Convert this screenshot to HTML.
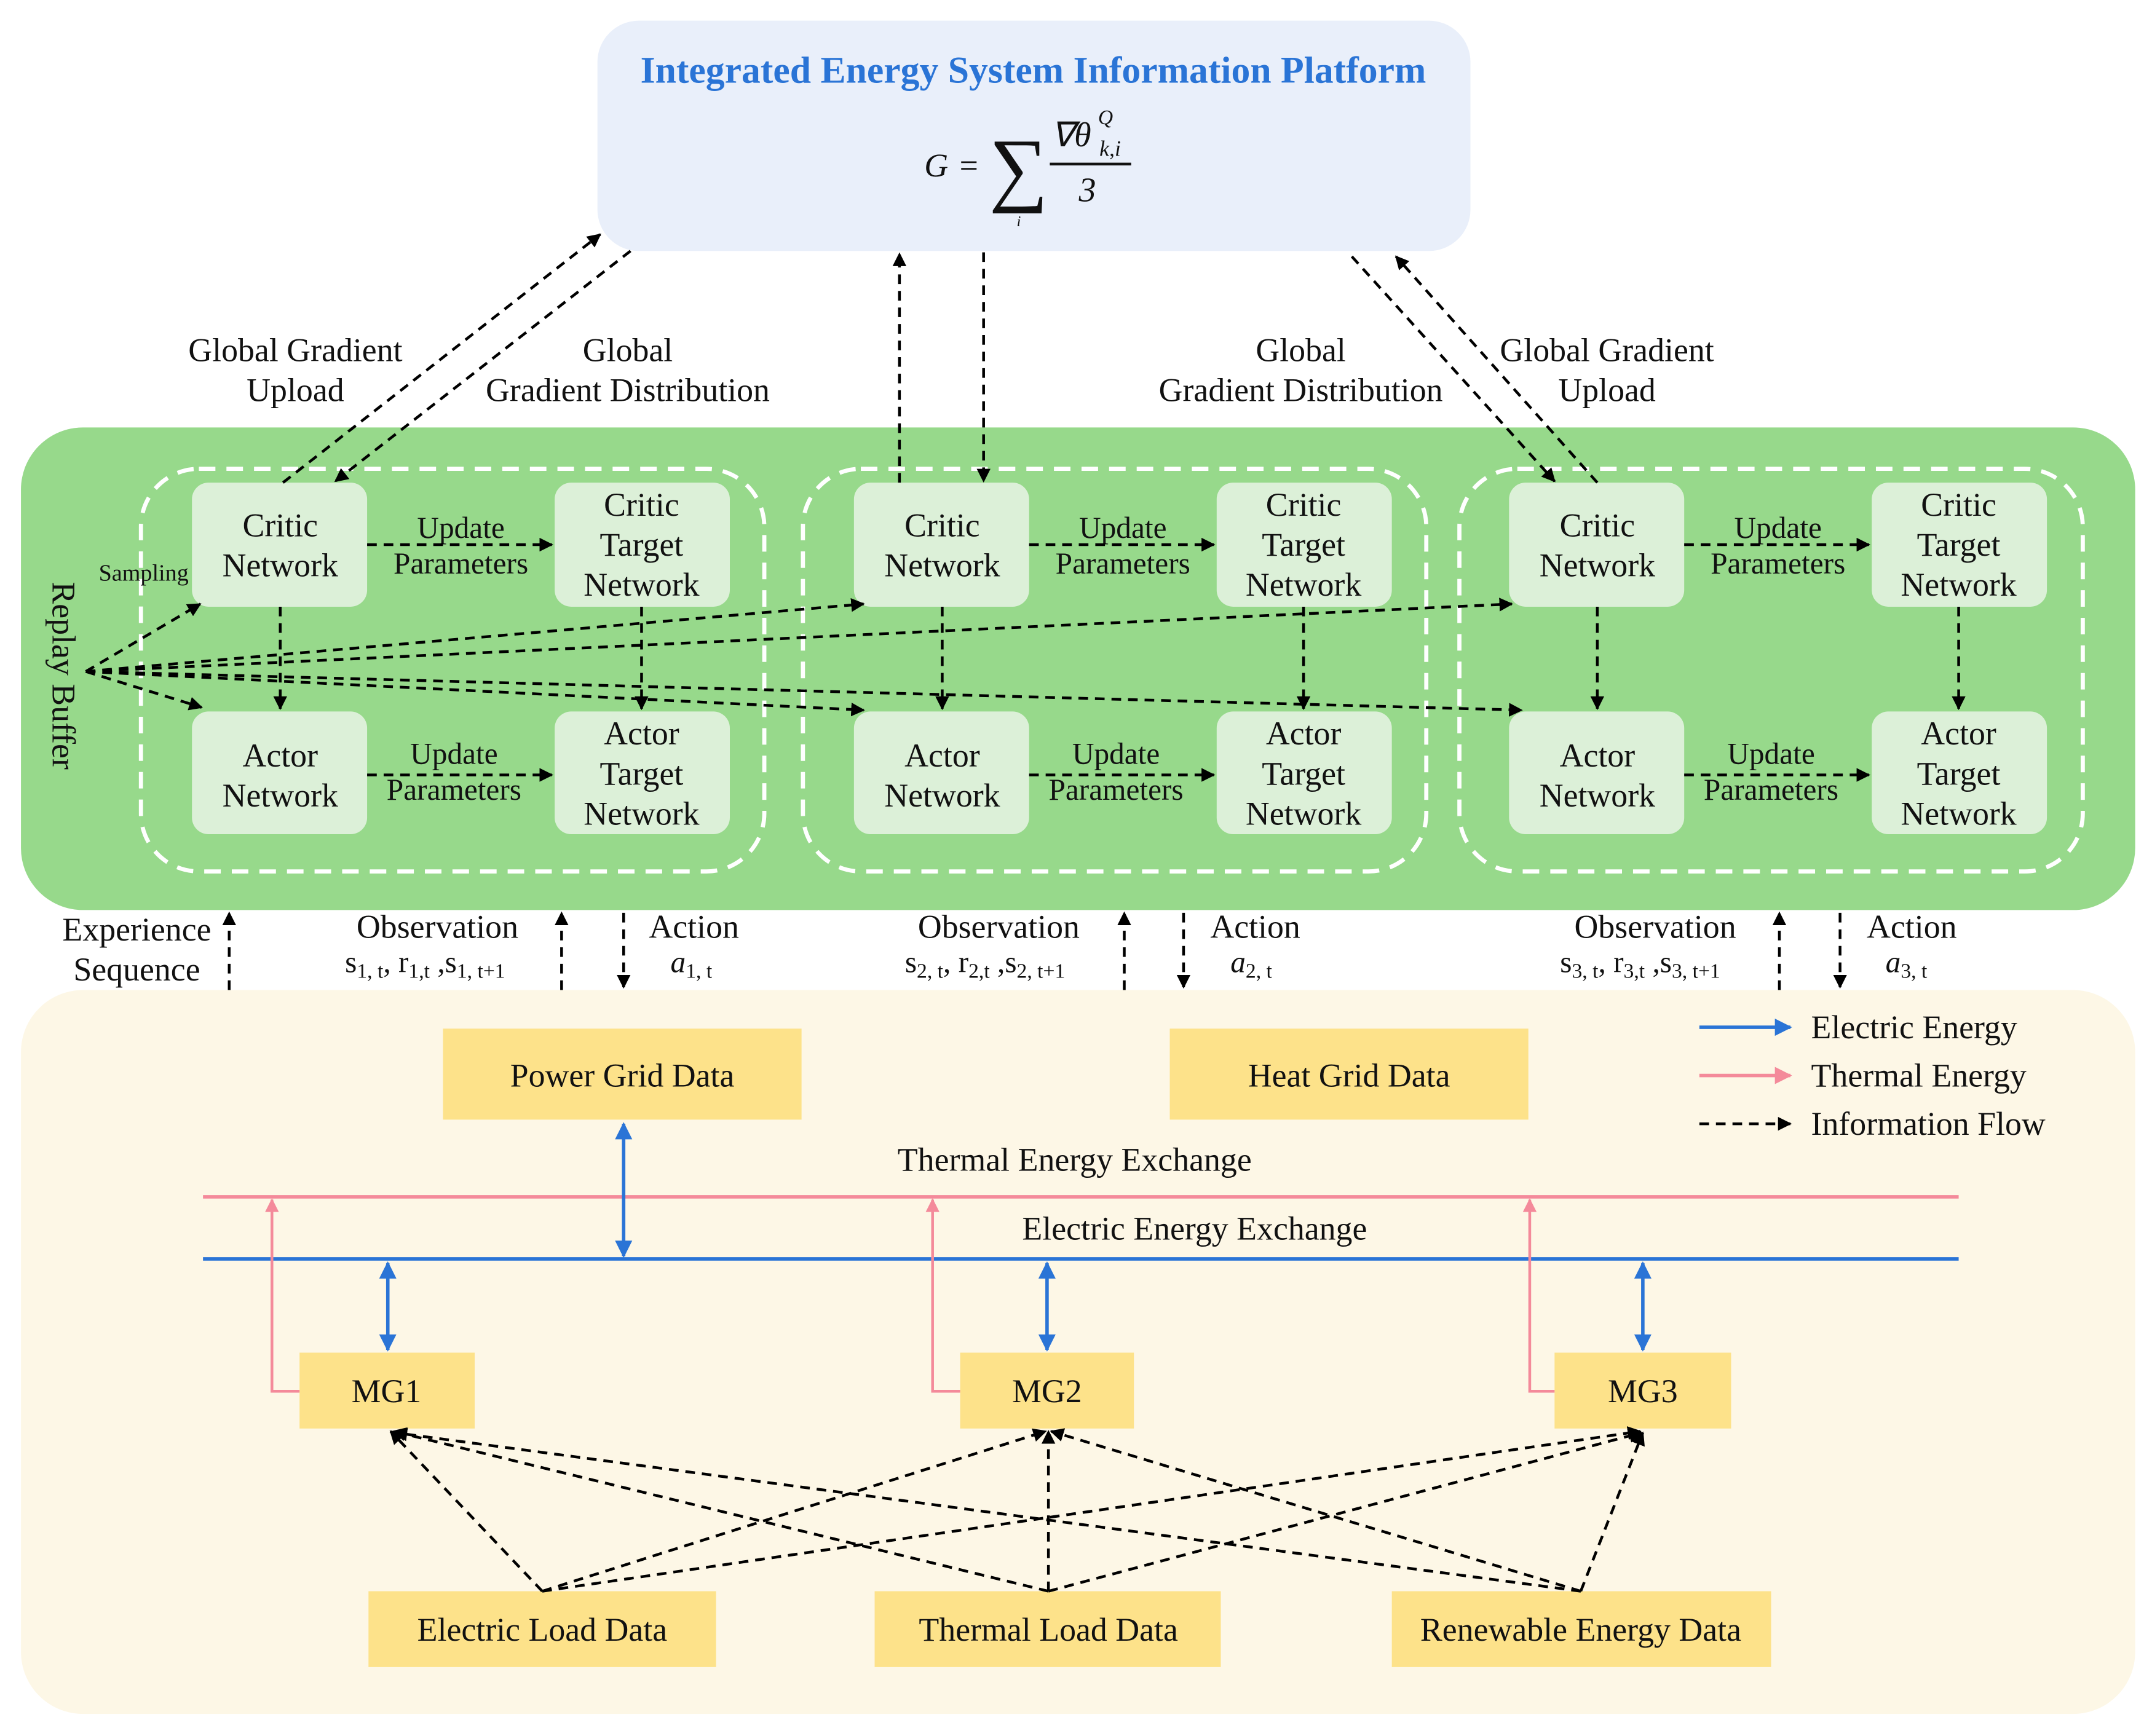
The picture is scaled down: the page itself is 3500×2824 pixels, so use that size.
<!DOCTYPE html>
<html><head><meta charset="utf-8"><style>
html,body{margin:0;padding:0;background:#fff;}
svg{display:block;}
text{font-family:"Liberation Serif",serif;fill:#111;}
</style></head><body>
<svg width="3500" height="2824" viewBox="0 0 1560 1259" xmlns="http://www.w3.org/2000/svg">
<defs>
<marker id="ak" viewBox="0 0 10 10" refX="9" refY="5" markerWidth="5" markerHeight="5" orient="auto-start-reverse"><path d="M0,0L10,5L0,10z" fill="#000"/></marker>
<marker id="ab" viewBox="0 0 10 10" refX="9" refY="5" markerWidth="5" markerHeight="5" orient="auto-start-reverse"><path d="M0,0L10,5L0,10z" fill="#2a74d6"/></marker>
<marker id="ap" viewBox="0 0 10 10" refX="9" refY="5" markerWidth="5" markerHeight="5" orient="auto-start-reverse"><path d="M0,0L10,5L0,10z" fill="#f48a9a"/></marker>
</defs>
<rect width="1560" height="1259" fill="#fff"/>
<!-- top platform -->
<rect x="433" y="15" width="633" height="167" rx="30" fill="#e9effa"/>
<text x="749" y="60" text-anchor="middle" font-size="27.5" font-weight="bold" style="fill:#2a74d6">Integrated Energy System Information Platform</text>
<g font-style="italic">
<text x="670" y="128" font-size="24" font-family="Liberation Sans,sans-serif">G</text>
<text x="694" y="128" font-size="24">=</text>
<text x="717" y="142" font-size="60" font-style="normal">∑</text>
<text x="737" y="164" font-size="11">i</text>
<text x="762" y="106" font-size="25">∇θ</text>
<text x="796" y="90" font-size="15">Q</text>
<text x="797" y="113" font-size="16">k,i</text>
<line x1="761" y1="119" x2="820" y2="119" stroke="#111" stroke-width="2"/>
<text x="782" y="146" font-size="25">3</text>
</g>
<!-- labels top -->
<g font-size="24" text-anchor="middle">
<text x="214" y="262">Global Gradient</text><text x="214" y="291">Upload</text>
<text x="455" y="262">Global</text><text x="455" y="291">Gradient Distribution</text>
<text x="943" y="262">Global</text><text x="943" y="291">Gradient Distribution</text>
<text x="1165" y="262">Global Gradient</text><text x="1165" y="291">Upload</text>
</g>
<!-- green -->
<rect x="15" y="310" width="1533" height="350" rx="45" fill="#97d98b"/>
<g fill="none" stroke="#fff" stroke-width="3" stroke-dasharray="12 8">
<rect x="102" y="340" width="452" height="292" rx="42"/>
<rect x="582" y="340" width="452" height="292" rx="42"/>
<rect x="1058" y="340" width="452" height="292" rx="42"/>
</g>
<g id="grp">
<rect x="139" y="350" width="127" height="90" rx="12" fill="#dcf0d8"/>
<rect x="402" y="350" width="127" height="90" rx="12" fill="#dcf0d8"/>
<rect x="139" y="516" width="127" height="89" rx="12" fill="#dcf0d8"/>
<rect x="402" y="516" width="127" height="89" rx="12" fill="#dcf0d8"/>
<g font-size="24" text-anchor="middle">
<text x="203" y="389">Critic</text><text x="203" y="418">Network</text>
<text x="465" y="374">Critic</text><text x="465" y="403">Target</text><text x="465" y="432">Network</text>
<text x="203" y="556">Actor</text><text x="203" y="585">Network</text>
<text x="465" y="540">Actor</text><text x="465" y="569">Target</text><text x="465" y="598">Network</text>
<text x="334" y="390" font-size="22">Update</text><text x="334" y="416" font-size="22">Parameters</text>
<text x="329" y="554" font-size="22">Update</text><text x="329" y="580" font-size="22">Parameters</text>
</g>
<g stroke="#000" stroke-width="2" stroke-dasharray="7 5" fill="none" marker-end="url(#ak)">
<line x1="266" y1="395" x2="400" y2="395"/>
<line x1="266" y1="562" x2="400" y2="562"/>
<line x1="203" y1="440" x2="203" y2="514"/>
<line x1="465" y1="440" x2="465" y2="514"/>
</g>
</g>
<use href="#grp" x="480"/>
<use href="#grp" x="955"/>
<text x="104" y="421" font-size="17" text-anchor="middle">Sampling</text>
<text transform="translate(38,490) rotate(90)" font-size="24" text-anchor="middle">Replay Buffer</text>
<g stroke="#000" stroke-width="2" stroke-dasharray="7 5" fill="none" marker-end="url(#ak)">
<line x1="62" y1="487" x2="145" y2="438"/>
<line x1="62" y1="487" x2="146" y2="513"/>
<line x1="62" y1="487" x2="626" y2="438"/>
<line x1="62" y1="487" x2="626" y2="515"/>
<line x1="62" y1="487" x2="1096" y2="438"/>
<line x1="62" y1="487" x2="1103" y2="515"/>
<line x1="205" y1="350" x2="435" y2="170"/>
<line x1="457" y1="182" x2="243" y2="349"/>
<line x1="652" y1="350" x2="652" y2="184"/>
<line x1="713" y1="183" x2="713" y2="349"/>
<line x1="980" y1="186" x2="1127" y2="349"/>
<line x1="1158" y1="350" x2="1012" y2="186"/>
<line x1="166" y1="718" x2="166" y2="662"/>
<line x1="407" y1="718" x2="407" y2="662"/>
<line x1="815" y1="718" x2="815" y2="662"/>
<line x1="1290" y1="718" x2="1290" y2="662"/>
<line x1="452" y1="662" x2="452" y2="716"/>
<line x1="858" y1="662" x2="858" y2="716"/>
<line x1="1334" y1="662" x2="1334" y2="716"/>
</g>
<g font-size="24" text-anchor="middle">
<text x="99" y="682">Experience</text><text x="99" y="711">Sequence</text>
<text x="317" y="680">Observation</text>
<text x="724" y="680">Observation</text>
<text x="1200" y="680">Observation</text>
<text x="503" y="680">Action</text><text x="910" y="680">Action</text><text x="1386" y="680">Action</text>
</g>
<g font-size="22">
<text x="250" y="705">s<tspan font-size="15" dy="4">1, t</tspan><tspan dy="-4">,   r</tspan><tspan font-size="15" dy="4">1,t</tspan><tspan dy="-4"> ,s</tspan><tspan font-size="15" dy="4">1, t+1</tspan></text>
<text x="656" y="705">s<tspan font-size="15" dy="4">2, t</tspan><tspan dy="-4">,   r</tspan><tspan font-size="15" dy="4">2,t</tspan><tspan dy="-4"> ,s</tspan><tspan font-size="15" dy="4">2, t+1</tspan></text>
<text x="1131" y="705">s<tspan font-size="15" dy="4">3, t</tspan><tspan dy="-4">,   r</tspan><tspan font-size="15" dy="4">3,t</tspan><tspan dy="-4"> ,s</tspan><tspan font-size="15" dy="4">3, t+1</tspan></text>
<text x="486" y="705" font-style="italic">a<tspan font-size="15" dy="4" font-style="normal">1, t</tspan></text>
<text x="892" y="705" font-style="italic">a<tspan font-size="15" dy="4" font-style="normal">2, t</tspan></text>
<text x="1367" y="705" font-style="italic">a<tspan font-size="15" dy="4" font-style="normal">3, t</tspan></text>
</g>
<!-- bottom region -->
<rect x="15" y="718" width="1533" height="525" rx="45" fill="#fdf7e6"/>
<g fill="#fde28a">
<rect x="321" y="746" width="260" height="66"/>
<rect x="848" y="746" width="260" height="66"/>
<rect x="217" y="981" width="127" height="55"/>
<rect x="696" y="981" width="126" height="55"/>
<rect x="1127" y="981" width="128" height="55"/>
<rect x="267" y="1154" width="252" height="55"/>
<rect x="634" y="1154" width="251" height="55"/>
<rect x="1009" y="1154" width="275" height="55"/>
</g>
<g font-size="24" text-anchor="middle">
<text x="451" y="788">Power Grid Data</text>
<text x="978" y="788">Heat Grid Data</text>
<text x="280" y="1017">MG1</text><text x="759" y="1017">MG2</text><text x="1191" y="1017">MG3</text>
<text x="393" y="1190">Electric Load Data</text>
<text x="760" y="1190">Thermal Load Data</text>
<text x="1146" y="1190">Renewable Energy Data</text>
<text x="779" y="849">Thermal Energy Exchange</text>
<text x="866" y="899">Electric Energy Exchange</text>
</g>
<line x1="147" y1="868" x2="1420" y2="868" stroke="#f48a9a" stroke-width="2.5"/>
<line x1="147" y1="913" x2="1420" y2="913" stroke="#2a74d6" stroke-width="2.5"/>
<g stroke="#2a74d6" stroke-width="2.5" fill="none" marker-start="url(#ab)" marker-end="url(#ab)">
<line x1="452" y1="815" x2="452" y2="911"/>
<line x1="281" y1="916" x2="281" y2="979"/>
<line x1="759" y1="916" x2="759" y2="979"/>
<line x1="1191" y1="916" x2="1191" y2="979"/>
</g>
<g stroke="#f48a9a" stroke-width="2" fill="none" marker-end="url(#ap)">
<polyline points="217,1009 197,1009 197,870"/>
<polyline points="696,1009 676,1009 676,870"/>
<polyline points="1127,1009 1109,1009 1109,870"/>
</g>
<g stroke="#000" stroke-width="2" stroke-dasharray="7 5" fill="none" marker-end="url(#ak)">
<line x1="393" y1="1154" x2="283" y2="1038"/>
<line x1="393" y1="1154" x2="758" y2="1038"/>
<line x1="393" y1="1154" x2="1189" y2="1038"/>
<line x1="760" y1="1154" x2="285" y2="1038"/>
<line x1="760" y1="1154" x2="760" y2="1038"/>
<line x1="760" y1="1154" x2="1190" y2="1039"/>
<line x1="1146" y1="1154" x2="286" y2="1039"/>
<line x1="1146" y1="1154" x2="762" y2="1038"/>
<line x1="1146" y1="1154" x2="1191" y2="1039"/>
</g>
<!-- legend -->
<line x1="1232" y1="745" x2="1298" y2="745" stroke="#2a74d6" stroke-width="2.5" marker-end="url(#ab)"/>
<line x1="1232" y1="780" x2="1298" y2="780" stroke="#f48a9a" stroke-width="2.5" marker-end="url(#ap)"/>
<line x1="1232" y1="815" x2="1298" y2="815" stroke="#000" stroke-width="2" stroke-dasharray="7 5" marker-end="url(#ak)"/>
<g font-size="24">
<text x="1313" y="753">Electric Energy</text>
<text x="1313" y="788">Thermal Energy</text>
<text x="1313" y="823">Information Flow</text>
</g>
</svg>
</body></html>
